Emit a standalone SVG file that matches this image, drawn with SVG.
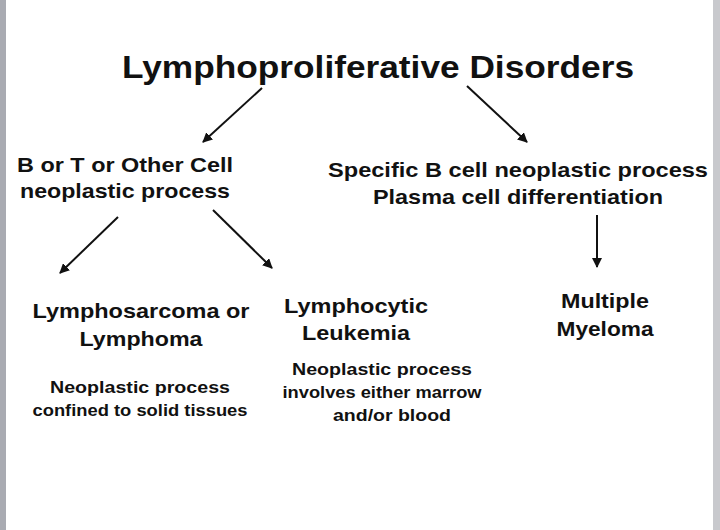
<svg xmlns="http://www.w3.org/2000/svg" width="720" height="530" viewBox="0 0 720 530">
<style>
text{font-family:"Liberation Sans",Arial,sans-serif;font-weight:bold;fill:#111;text-anchor:middle}
.h{font-size:32px}.m{font-size:21px}.s{font-size:17px}
.c line{stroke:#111;stroke-width:2;marker-end:url(#a)}
</style>
<defs><marker id="a" viewBox="0 0 10 10" refX="9" refY="5" markerWidth="5" markerHeight="5" orient="auto"><path d="M0,0L10,5L0,10z" fill="#111"/></marker></defs>
<rect width="720" height="530" fill="#fff"/>
<rect x="0" y="0" width="6" height="530" fill="#a9abb2"/>
<rect x="713" y="0" width="7" height="530" fill="#c8c9cd"/>
<g id="title"><text class="h" x="378" y="78" textLength="512" lengthAdjust="spacingAndGlyphs">Lymphoproliferative Disorders</text></g>
<g id="btcell"><text class="m" x="125" y="172" textLength="216" lengthAdjust="spacingAndGlyphs">B or T or Other Cell</text><text class="m" x="125" y="198" textLength="210" lengthAdjust="spacingAndGlyphs">neoplastic process</text></g>
<g id="bcell"><text class="m" x="518" y="177" textLength="380" lengthAdjust="spacingAndGlyphs">Specific B cell neoplastic process</text><text class="m" x="518" y="204" textLength="290" lengthAdjust="spacingAndGlyphs">Plasma cell differentiation</text></g>
<g id="lymphoma"><text class="m" x="141" y="318" textLength="217" lengthAdjust="spacingAndGlyphs">Lymphosarcoma or</text><text class="m" x="141" y="346" textLength="123" lengthAdjust="spacingAndGlyphs">Lymphoma</text><text class="s" x="140" y="393" textLength="180" lengthAdjust="spacingAndGlyphs">Neoplastic process</text><text class="s" x="140" y="416" textLength="215" lengthAdjust="spacingAndGlyphs">confined to solid tissues</text></g>
<g id="leukemia"><text class="m" x="356" y="313" textLength="144" lengthAdjust="spacingAndGlyphs">Lymphocytic</text><text class="m" x="356" y="340" textLength="108" lengthAdjust="spacingAndGlyphs">Leukemia</text><text class="s" x="382" y="375" textLength="180" lengthAdjust="spacingAndGlyphs">Neoplastic process</text><text class="s" x="382" y="398" textLength="199" lengthAdjust="spacingAndGlyphs">involves either marrow</text><text class="s" x="392" y="421" textLength="118" lengthAdjust="spacingAndGlyphs">and/or blood</text></g>
<g id="myeloma"><text class="m" x="605" y="308" textLength="88" lengthAdjust="spacingAndGlyphs">Multiple</text><text class="m" x="605" y="336" textLength="97" lengthAdjust="spacingAndGlyphs">Myeloma</text></g>
<g class="c">
<line x1="262" y1="88" x2="203" y2="142"/>
<line x1="467" y1="86" x2="527" y2="142"/>
<line x1="118" y1="217" x2="60" y2="273"/>
<line x1="213" y1="210" x2="272" y2="268"/>
<line x1="597" y1="215" x2="597" y2="267"/>
</g>
</svg>
